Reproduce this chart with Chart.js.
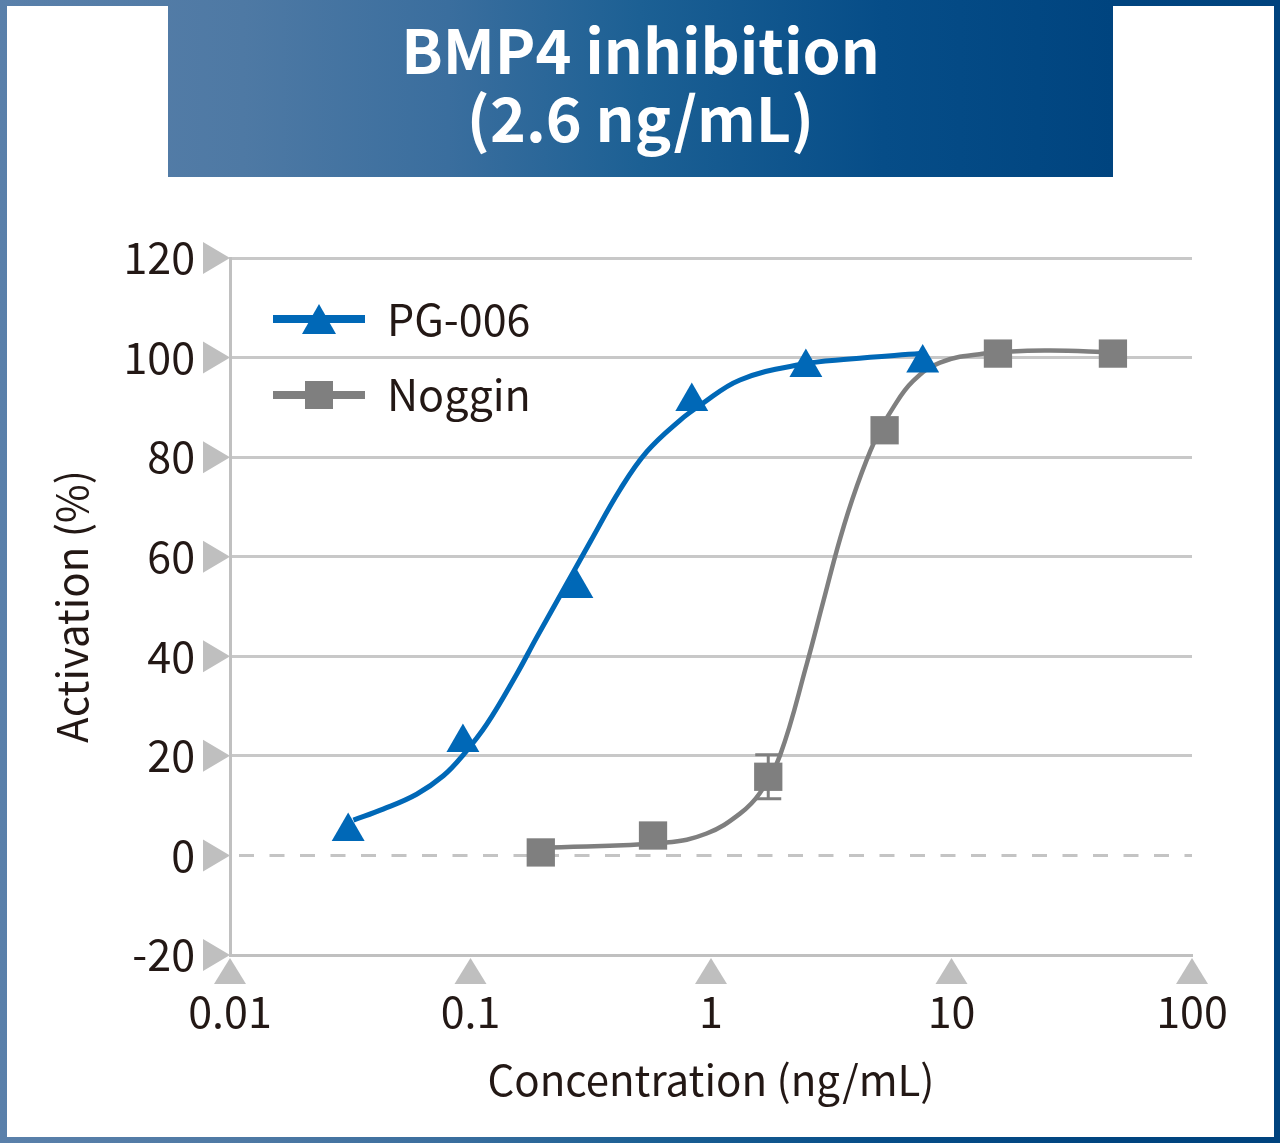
<!DOCTYPE html>
<html>
<head>
<meta charset="utf-8">
<script src="https://cdn.jsdelivr.net/npm/chart.js@4.4.1/dist/chart.umd.min.js"></script>
<style>
  html, body { margin: 0; padding: 0; }
  body {
    width: 1280px; height: 1143px; position: relative; overflow: hidden;
    font-family: "Noto Sans CJK JP", "Noto Sans", sans-serif;
  }
  .grad {
    background: linear-gradient(to right, #5a80aa 0%, #4e79a4 19%, #3a6e9e 35%, #1c6094 50%, #064d88 69%, #00447f 87%, #00437e 100%);
    background-attachment: fixed;
  }
  #frame { position: absolute; left: 0; top: 0; width: 1280px; height: 1143px; }
  #sheet { position: absolute; left: 7px; top: 6px; right: 6px; bottom: 6px; background: #fff; }
  #banner {
    position: absolute; left: 168px; top: 0; width: 945px; height: 177px;
    color: #fff; font-weight: bold; font-size: 61px; line-height: 68px;
    text-align: center; box-sizing: border-box; padding-top: 14px;
  }
  #chart { position: absolute; left: 0; top: 0; }
</style>
</head>
<body>
<div id="frame" class="grad"></div>
<div id="sheet"></div>
<div id="banner" class="grad">BMP4 inhibition<br>(2.6 ng/mL)</div>
<canvas id="chart" width="1280" height="1143"></canvas>
<script>
// axis ticks
const xTicks = [0.01, 0.1, 1, 10, 100];
const xTickLabels = ["0.01", "0.1", "1", "10", "100"];
const yTicks = [-20, 0, 20, 40, 60, 80, 100, 120];

// measured points (ng/mL, % activation)
const pgConc = [0.031, 0.093, 0.277, 0.832, 2.48, 7.59];
const pgAct = [4.8, 22.7, 53.6, 91.2, 98.0, 98.9];
const nogConc = [0.196, 0.574, 1.73, 5.27, 15.6, 46.9];
const nogAct = [0.6, 4.0, 15.8, 85.4, 100.8, 100.8];
const nogErr = [0, 0, 4.4, 0, 0, 0];

// fitted curves
const pgFitConc = [0.0326, 0.0433, 0.0597, 0.0771, 0.0933, 0.1167, 0.1556, 0.188, 0.243, 0.314, 0.419, 0.541, 0.743, 0.90, 1.32, 2.35, 3.78, 7.4];
const pgFitAct = [7.1, 9.3, 12.3, 16.0, 20.2, 26.3, 36.4, 43.7, 53.3, 62.9, 73.5, 81.1, 87.4, 90.4, 95.5, 98.6, 99.7, 100.8];
const nogFitConc = [0.196, 0.65, 0.959, 1.32, 1.60, 1.94, 2.50, 2.93, 3.44, 4.03, 4.81, 5.73, 6.93, 8.96, 13.7, 24.9, 46.9];
const nogFitAct = [1.5, 2.6, 4.4, 8.4, 12.6, 20.2, 38.4, 51.0, 63.6, 74.0, 83.4, 90.0, 95.3, 99, 100.8, 101.4, 101];

const blue = "#0068b7";
const grey = "#7f7f7f";
const textColor = "#231815";
const fontFamily = "'Noto Sans CJK JP', 'Noto Sans', sans-serif";

function pairs(xs, ys) {
  return xs.map((x, i) => ({ x: x, y: ys[i] }));
}

// triangles on the ticks, dashed zero line, error bars
const decorations = {
  id: "decorations",
  beforeDatasetsDraw(chart) {
    const c = chart.ctx;
    const xs = chart.scales.x;
    const ys = chart.scales.y;
    const area = chart.chartArea;
    c.save();
    // zero line
    c.strokeStyle = "#c4c4c4";
    c.lineWidth = 3;
    c.setLineDash([15, 15.5]);
    c.beginPath();
    c.moveTo(area.left + 9, ys.getPixelForValue(0));
    c.lineTo(area.right, ys.getPixelForValue(0));
    c.stroke();
    c.setLineDash([]);

    // tick markers
    c.fillStyle = "#bfbfbf";
    yTicks.forEach(v => {
      const py = ys.getPixelForValue(v);
      c.beginPath();
      c.moveTo(area.left - 27, py - 16);
      c.lineTo(area.left - 27, py + 16);
      c.lineTo(area.left, py);
      c.closePath();
      c.fill();
    });
    xTicks.forEach(v => {
      const px = xs.getPixelForValue(v);
      c.beginPath();
      c.moveTo(px - 16, area.bottom + 29);
      c.lineTo(px + 16, area.bottom + 29);
      c.lineTo(px, area.bottom + 3);
      c.closePath();
      c.fill();
    });

    // error bars
    c.strokeStyle = grey;
    c.lineWidth = 3;
    nogConc.forEach((v, i) => {
      if (!nogErr[i]) return;
      const px = xs.getPixelForValue(v);
      const top = ys.getPixelForValue(nogAct[i] + nogErr[i]);
      const bot = ys.getPixelForValue(nogAct[i] - nogErr[i]);
      c.beginPath();
      c.moveTo(px, top); c.lineTo(px, bot);
      c.moveTo(px - 13, top); c.lineTo(px + 13, top);
      c.moveTo(px - 13, bot); c.lineTo(px + 13, bot);
      c.stroke();
    });
    c.restore();
  },
  afterDraw(chart) {
    // legend
    const c = chart.ctx;
    c.save();
    c.lineWidth = 8;
    c.strokeStyle = blue;
    c.beginPath(); c.moveTo(273, 319); c.lineTo(365, 319); c.stroke();
    c.fillStyle = blue;
    c.beginPath(); c.moveTo(319, 304); c.lineTo(336, 334); c.lineTo(302, 334); c.closePath(); c.fill();
    c.strokeStyle = grey;
    c.beginPath(); c.moveTo(273, 395); c.lineTo(365, 395); c.stroke();
    c.fillStyle = grey;
    c.fillRect(305, 381, 28, 28);
    c.fillStyle = textColor;
    c.font = "43px " + fontFamily;
    c.textBaseline = "middle";
    c.textAlign = "left";
    c.fillText("PG-006", 387, 320);
    c.fillText("Noggin", 387, 395);
    c.restore();
  }
};

const ctx = document.getElementById("chart").getContext("2d");
const chart = new Chart(ctx, {
  type: "scatter",
  data: {
    datasets: [
      {
        label: "PG-006",
        data: pairs(pgConc, pgAct),
        pointStyle: "triangle",
        pointRadius: 19,
        pointBackgroundColor: blue,
        pointBorderWidth: 0,
        showLine: false,
        order: 0
      },
      {
        label: "PG-006 fit",
        data: pairs(pgFitConc, pgFitAct),
        showLine: true,
        pointRadius: 0,
        borderColor: blue,
        borderWidth: 5,
        tension: 0.4,
        order: 1
      },
      {
        label: "Noggin",
        data: pairs(nogConc, nogAct),
        pointStyle: "rect",
        pointRadius: 20,
        pointBackgroundColor: grey,
        pointBorderWidth: 0,
        showLine: false,
        order: 2
      },
      {
        label: "Noggin fit",
        data: pairs(nogFitConc, nogFitAct),
        showLine: true,
        pointRadius: 0,
        borderColor: grey,
        borderWidth: 4.5,
        tension: 0.4,
        order: 3
      }
    ]
  },
  options: {
    responsive: false,
    animation: false,
    devicePixelRatio: 1,
    events: [],
    layout: { padding: { top: 258, right: 88, bottom: 0, left: 0 } },
    plugins: {
      legend: { display: false },
      tooltip: { enabled: false }
    },
    scales: {
      x: {
        type: "logarithmic",
        min: 0.01,
        max: 100,
        afterFit: s => { s.height = 188; },
        afterBuildTicks: s => { s.ticks = xTicks.map(v => ({ value: v })); },
        grid: { drawOnChartArea: false, drawTicks: false },
        border: { display: true, color: "#c0c0c0", width: 3 },
        ticks: {
          autoSkip: false,
          maxRotation: 0,
          padding: 31,
          color: textColor,
          font: { family: fontFamily, size: 43 },
          callback: (v) => {
            const i = xTicks.indexOf(v);
            return i >= 0 ? xTickLabels[i] : "";
          }
        },
        title: {
          display: true,
          text: "Concentration (ng/mL)",
          color: textColor,
          font: { family: fontFamily, size: 42 },
          padding: { top: 38, bottom: 38 }
        }
      },
      y: {
        min: -20,
        max: 120,
        afterFit: s => { s.width = 230; },
        afterBuildTicks: s => { s.ticks = yTicks.map(v => ({ value: v })); },
        grid: {
          drawTicks: false,
          lineWidth: 3,
          color: c => (c.tick && c.tick.value === 0 ? "rgba(0,0,0,0)" : "#c8c8c8")
        },
        border: { display: true, color: "#c0c0c0", width: 3 },
        ticks: {
          padding: 35,
          color: textColor,
          font: { family: fontFamily, size: 43 }
        },
        title: {
          display: true,
          text: "Activation (%)",
          color: textColor,
          font: { family: fontFamily, size: 42 },
          padding: { top: 47, bottom: 47 }
        }
      }
    }
  },
  plugins: [decorations]
});
</script>
</body>
</html>
